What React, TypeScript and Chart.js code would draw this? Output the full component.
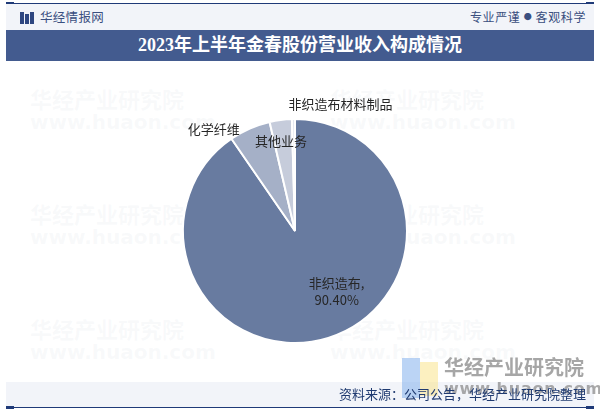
import React, { useEffect, useRef } from "react";
import { Chart, registerables } from "chart.js";

Chart.register(...registerables);

// ---- data ----
const categories: string[] = ["非织造布", "化学纤维", "其他业务", "非织造布材料制品"];
const shareValues: number[] = [90.4, 5.96, 3.2, 0.44];
const labelTexts: string[][] = [["非织造布,", "90.40%"], ["化学纤维"], ["其他业务"], ["非织造布材料制品"]];

// ---- style / layout ----
const sliceColors = ["#687ba0", "#a5b0c7", "#c6ccdb", "#e4e7ef"];
// label anchor relative to pie centre, in units of outer radius
const labelAnchors: number[][] = [
  [0.372, 0.54],
  [-0.726, -0.912],
  [-0.124, -0.805],
  [0.407, -1.133],
];

const labelPlugin = {
  id: "sliceLabels",
  afterDatasetsDraw(chart: any) {
    const meta = chart.getDatasetMeta(0);
    const ctx = chart.ctx as CanvasRenderingContext2D;
    ctx.save();
    ctx.font = "13px 'Noto Sans CJK SC', 'Noto Sans', sans-serif";
    ctx.fillStyle = "#262626";
    ctx.textAlign = "center";
    ctx.textBaseline = "middle";
    meta.data.forEach((arc: any, i: number) => {
      const r = arc.outerRadius;
      const cx = arc.x + labelAnchors[i][0] * r;
      const cy = arc.y + labelAnchors[i][1] * r;
      const lines = labelTexts[i];
      const lh = 17;
      lines.forEach((t, j) => {
        ctx.fillText(t, cx, cy + (j - (lines.length - 1) / 2) * lh);
      });
    });
    ctx.restore();
  },
};

function PieChart() {
  const ref = useRef<HTMLCanvasElement | null>(null);
  useEffect(() => {
    if (!ref.current) return;
    const chart = new Chart(ref.current, {
      type: "pie",
      data: {
        labels: categories,
        datasets: [
          {
            data: shareValues,
            backgroundColor: sliceColors,
            borderColor: "#ffffff",
            borderWidth: 2,
            hoverOffset: 0,
            offset: 0,
          } as any,
        ],
      },
      options: {
        animation: false,
        responsive: true,
        maintainAspectRatio: false,
        layout: { padding: { top: 57, bottom: 57, left: 0, right: 0 } },
        plugins: {
          legend: { display: false },
          tooltip: { enabled: false },
        },
        events: [],
      },
      plugins: [labelPlugin],
    });
    return () => chart.destroy();
  }, []);
  return <canvas ref={ref} />;
}

const navy = "#1f3a78";

function Watermark({ x, y }: { x: number; y: number }) {
  return (
    <div style={{ position: "absolute", left: x, top: y, color: "rgba(190,198,212,0.1)", fontFamily: "'Noto Sans CJK SC', sans-serif", fontWeight: 700 }}>
      <div style={{ fontSize: 22, lineHeight: "26px" }}>华经产业研究院</div>
      <div style={{ fontSize: 20, lineHeight: "22px", fontFamily: "'DejaVu Sans', sans-serif" }}>www.huaon.com</div>
    </div>
  );
}

export default function App() {
  return (
    <div
      style={{
        position: "absolute",
        left: 0,
        top: 0,
        width: 600,
        height: 413,
        background: "#ffffff",
        overflow: "hidden",
        fontFamily: "'Noto Sans CJK SC', sans-serif",
      }}
    >
      {/* top rule */}
      <div style={{ position: "absolute", left: 6, top: 3, width: 588, height: 1, background: navy }} />
      <div style={{ position: "absolute", left: 6, top: 2, width: 8, height: 3, background: navy }} />
      <div style={{ position: "absolute", left: 586, top: 2, width: 8, height: 3, background: navy }} />
      {/* header band */}
      <div style={{ position: "absolute", left: 6, top: 4, width: 588, height: 26, background: "#f2f4f9" }} />
      {/* logo icon */}
      <div style={{ position: "absolute", left: 20, top: 12, width: 4, height: 12, background: "#2e4680" }} />
      <div style={{ position: "absolute", left: 25, top: 14, width: 4, height: 10, background: "#2e4680" }} />
      <div style={{ position: "absolute", left: 30, top: 12, width: 4, height: 12, background: "#2e4680" }} />
      <div style={{ position: "absolute", left: 40, top: 8, fontSize: 12.5, lineHeight: "18px", color: "#3a4f80", letterSpacing: 0.3 }}>
        华经情报网
      </div>
      <div style={{ position: "absolute", right: 14, top: 8, fontSize: 12, lineHeight: "18px", color: "#3a4f80", letterSpacing: 0.6 }}>
        专业严谨 <span style={{ fontSize: 8, verticalAlign: "2px" }}>●</span> 客观科学
      </div>
      {/* title bar */}
      <div
        style={{
          position: "absolute",
          left: 6,
          top: 30,
          width: 588,
          height: 31,
          background: "#435b8f",
          color: "#ffffff",
          fontSize: 18,
          fontWeight: 700,
          lineHeight: "31px",
          textAlign: "center",
          fontFamily: "'Liberation Serif', 'Noto Sans CJK SC', serif",
        }}
      >
        2023年上半年金春股份营业收入构成情况
      </div>

      {/* faint watermarks */}
      <Watermark x={30} y={85} />
      <Watermark x={330} y={85} />
      <Watermark x={30} y={200} />
      <Watermark x={330} y={200} />
      <Watermark x={30} y={315} />
      <Watermark x={330} y={315} />

      {/* chart */}
      <div style={{ position: "absolute", left: 0, top: 61, width: 590, height: 340 }}>
        <PieChart />
      </div>

      {/* footer band */}
      <div style={{ position: "absolute", left: 6, top: 382, width: 588, height: 25, background: "#f2f4f9" }} />

      {/* bottom-right logo */}
      <div style={{ position: "absolute", left: 402, top: 358, width: 18, height: 40, background: "rgba(120,170,235,0.5)" }} />
      <div style={{ position: "absolute", left: 420, top: 362, width: 18, height: 34, background: "rgba(250,228,140,0.55)" }} />
      <div style={{ position: "absolute", left: 444, top: 354, fontSize: 20, fontWeight: 700, lineHeight: "26px", color: "rgba(150,150,150,0.85)" }}>
        华经产业研究院
      </div>
      <div
        style={{
          position: "absolute",
          left: 444,
          top: 379,
          fontSize: 16,
          fontWeight: 700,
          lineHeight: "20px",
          color: "rgba(140,140,140,0.75)",
          fontFamily: "'DejaVu Sans', sans-serif",
          letterSpacing: 0.8,
        }}
      >
        www.huaon.com
      </div>

      {/* source text */}
      <div style={{ position: "absolute", right: 14, top: 385, fontSize: 13, lineHeight: "18px", color: "#1f3a70" }}>
        资料来源：公司公告，华经产业研究院整理
      </div>

      {/* bottom rule */}
      <div style={{ position: "absolute", left: 6, top: 407, width: 588, height: 1, background: navy }} />
      <div style={{ position: "absolute", left: 6, top: 406, width: 8, height: 3, background: navy }} />
      <div style={{ position: "absolute", left: 586, top: 406, width: 8, height: 3, background: navy }} />
    </div>
  );
}
